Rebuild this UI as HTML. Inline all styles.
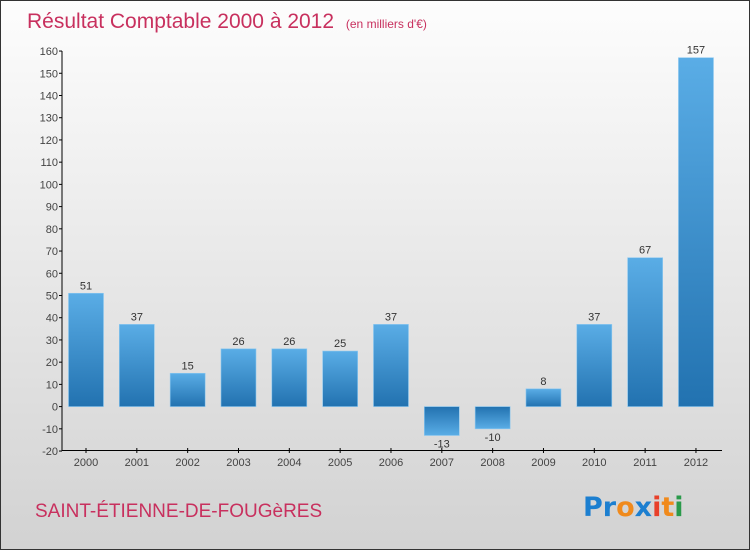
<!DOCTYPE html>
<html><head><meta charset="utf-8"><style>
body{margin:0}
#c{width:748px;height:548px;border:1px solid #333;background:linear-gradient(#fdfdfd,#d2d2d2);position:relative;overflow:hidden;font-family:"Liberation Sans",sans-serif}
</style></head><body>
<div id="c">
<svg id="s" width="748" height="548">
<defs><linearGradient id="g" x1="0" y1="0" x2="0" y2="1"><stop offset="0" stop-color="#5aade6"/><stop offset="1" stop-color="#2272b0"/></linearGradient>
<linearGradient id="gn" x1="0" y1="0" x2="0" y2="1"><stop offset="0" stop-color="#2272b0"/><stop offset="1" stop-color="#5aade6"/></linearGradient></defs>
<text x="26" y="27" font-size="21" fill="#c8305e">Résultat Comptable 2000 à 2012 <tspan font-size="12" dx="6">(en milliers d'€)</tspan></text>
<text x="34" y="516" font-size="19" fill="#c8305e">SAINT-ÉTIENNE-DE-FOUGèRES</text>
<g font-size="27" font-weight="bold" font-family="'DejaVu Sans',sans-serif">
<text x="582" y="515"><tspan fill="#1c7fd0">Pr</tspan><tspan fill="#f08a1c">o</tspan><tspan fill="#1c7fd0">x</tspan><tspan fill="#e8402a">i</tspan><tspan fill="#f08a1c">t</tspan><tspan fill="#2a9a4a">i</tspan></text></g>
<g id="ax"></g><g id="bars"></g>
</svg></div>
<script>
const years=["2000","2001","2002","2003","2004","2005","2006","2007","2008","2009","2010","2011","2012"];
const values=[51,37,15,26,26,25,37,-13,-10,8,37,67,157];
const yTicks=[-20,-10,0,10,20,30,40,50,60,70,80,90,100,110,120,130,140,150,160];
const NS="http://www.w3.org/2000/svg";
function y(v){return 405.6-v*(400/180);}
function x(i){return 85+i*50.83;}
function mk(t,a,p){const e=document.createElementNS(NS,t);for(const k in a)e.setAttribute(k,a[k]);p.appendChild(e);return e;}
const ax=document.getElementById('ax'),bg=document.getElementById('bars');
const yl=mk('line',{x1:61,y1:y(160),x2:61,y2:y(-20),stroke:'#000'},ax);


const xl=mk('line',{x1:61,y1:449.5,x2:721,y2:449.5,stroke:'#000'},ax);


yTicks.forEach(t=>{
 mk('line',{x1:58,x2:61,y1:y(t),y2:y(t),stroke:'#000'},ax);
 const tx=mk('text',{x:57,y:y(t)+4,'font-size':11,fill:'#444','text-anchor':'end'},ax);
 tx.textContent=t;
 
 
});
years.forEach((yr,i)=>{
 mk('line',{x1:x(i),x2:x(i),y1:447,y2:452,stroke:'#000'},ax);
 const tx=mk('text',{x:x(i),y:465,'font-size':11,fill:'#444','text-anchor':'middle'},ax);
 tx.textContent=yr;
 
 
 const v=values[i],t=Math.min(y(v),y(0)),h=Math.abs(y(v)-y(0));
 const r=mk('rect',{x:x(i)-17.5,y:t,width:35,height:h,fill:v<0?'url(#gn)':'url(#g)',stroke:'#8cc8f0','stroke-width':0.6},bg);
 
 
 const l=mk('text',{x:x(i),y:v<0?y(v)+12:y(v)-4,'font-size':11,fill:'#333','text-anchor':'middle'},bg);
 l.textContent=v<0?'-'+Math.abs(v):v;
 
 
});
</script></body></html>
